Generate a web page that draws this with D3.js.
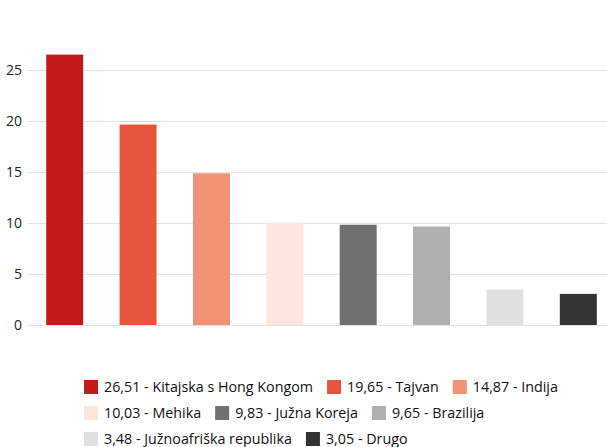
<!DOCTYPE html>
<html><head><meta charset="utf-8">
<script src="https://cdn.jsdelivr.net/npm/d3@7"></script>
<style>body{margin:0;background:#fff}svg{display:block;font-family:"Open Sans",sans-serif}</style>
</head><body>
<svg id="c" width="607" height="447"></svg>
<script>
const categories = ["Kitajska s Hong Kongom","Tajvan","Indija","Mehika","Južna Koreja","Brazilija","Južnoafriška republika","Drugo"];
const values = [26.51,19.65,14.87,10.03,9.83,9.65,3.48,3.05];
const colors = ["#c3191a","#e8553d","#f19274","#fde6de","#707070","#b0b0b0","#e0e0e0","#333333"];
const yTicks = [0,5,10,15,20,25];
const legendRows = [[0,1,2],[3,4,5],[6,7]];

const svg = d3.select("#c");
const x = d3.scaleBand().domain(categories).range([28,615]).paddingInner(0.496).paddingOuter(0.248);
const y = d3.scaleLinear().domain([0,25]).range([325,70]);

const grid = svg.append("g");
grid.selectAll("line").data(yTicks).join("line")
  .attr("x1",28).attr("x2",607).attr("y1",d=>Math.round(y(d))+0.5).attr("y2",d=>Math.round(y(d))+0.5)
  .attr("stroke","#e3e3e3").attr("stroke-width",1);

const yAxis = svg.append("g").attr("transform","translate(28,0)")
  .call(d3.axisLeft(y).tickValues(yTicks).tickSize(0).tickPadding(6));
yAxis.select(".domain").remove();
yAxis.selectAll("text").attr("font-size",14).attr("fill","#222").attr("font-family","'Open Sans',sans-serif");

svg.append("g").selectAll("rect").data(values).join("rect")
  .attr("x",(d,i)=>x(categories[i])).attr("width",x.bandwidth())
  .attr("y",d=>y(d)).attr("height",d=>y(0)-y(d))
  .attr("fill",(d,i)=>colors[i]);

const fmt = v => d3.format(".2f")(v).replace(".",",");
const lg = svg.append("g");
legendRows.forEach((row,r)=>{
  let cx = 84;
  const cy = 387 + r*26;
  row.forEach(i=>{
    lg.append("rect").attr("x",cx).attr("y",cy-7).attr("width",14).attr("height",14).attr("fill",colors[i]);
    const t = lg.append("text").attr("x",cx+20).attr("y",cy).attr("dy","0.35em")
      .attr("font-size",14.3).attr("fill","#111").text(fmt(values[i])+" - "+categories[i]);
    cx += 20 + t.node().getComputedTextLength() + 14;
  });
});
</script>
</body></html>
